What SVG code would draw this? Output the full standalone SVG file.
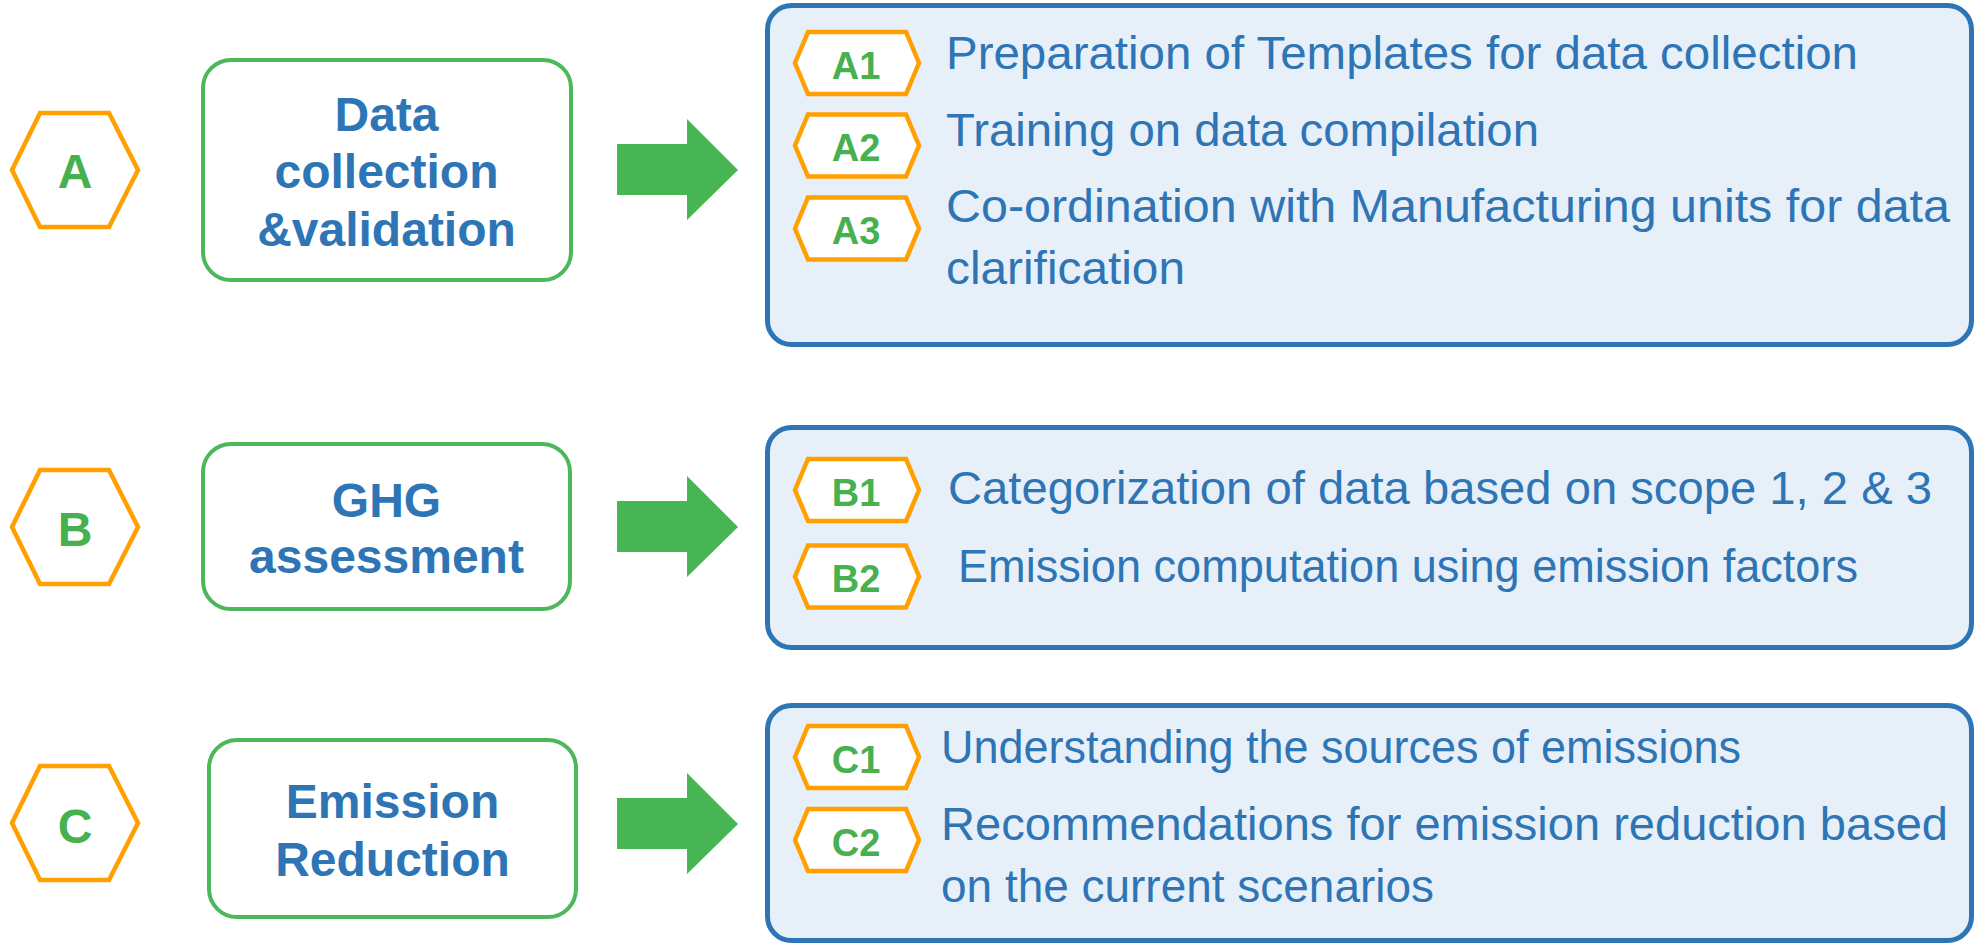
<svg xmlns="http://www.w3.org/2000/svg" width="1975" height="945" viewBox="0 0 1975 945">
<style>
.hexL{fill:#fff;stroke:#FFA000;stroke-width:4.5;stroke-linejoin:miter}
.hexS{fill:#fff;stroke:#FFA000;stroke-width:4.5;stroke-linejoin:miter}
.box{fill:#fff;stroke:#4CB85A;stroke-width:4}
.panel{fill:#E7EFF8;stroke:#2E75B6;stroke-width:5}
.arrow{fill:#47B553}
.lbl{font-family:"Liberation Sans",Arial,sans-serif;font-weight:bold;fill:#47B04F;text-anchor:middle}
.big{font-size:48px}
.sm{font-size:38px}
.head{font-family:"Liberation Sans",Arial,sans-serif;font-weight:bold;font-size:48px;fill:#2E75B6;text-anchor:middle}
.item{font-family:"Liberation Sans",Arial,sans-serif;font-size:47px;fill:#2E75B6}
</style>
<defs>
<polygon id="hl" points="-63,0 -35,-57 34,-57 63,0 34,57 -35,57"/>
<polygon id="hs" points="-62,0 -49,-31 49,-31 62,0 49,31 -49,31"/>
</defs>
<g id="connectors">
<polygon class="arrow" points="617,144 687,144 687,119 738,170 687,220 687,195 617,195"/>
<polygon class="arrow" points="617,501 687,501 687,476 738,527 687,577 687,552 617,552"/>
<polygon class="arrow" points="617,798 687,798 687,773 738,824 687,874 687,849 617,849"/>
</g>
<g id="hexA"><use href="#hl" class="hexL" x="75" y="170"/><text class="lbl big" x="75" y="188">A</text></g>
<g id="hexB"><use href="#hl" class="hexL" x="75" y="527"/><text class="lbl big" x="75" y="546">B</text></g>
<g id="hexC"><use href="#hl" class="hexL" x="75" y="823"/><text class="lbl big" x="75" y="843">C</text></g>
<g id="boxA"><rect class="box" x="203" y="60" width="368" height="220" rx="28"/>
<text class="head" x="386.5" y="131">Data</text><text class="head" x="386.5" y="188">collection</text><text class="head" x="386.5" y="246">&amp;validation</text></g>
<g id="boxB"><rect class="box" x="203" y="444" width="367" height="165" rx="28"/>
<text class="head" x="386.5" y="517">GHG</text><text class="head" x="386.5" y="573">assessment</text></g>
<g id="boxC"><rect class="box" x="209" y="740" width="367" height="177" rx="28"/>
<text class="head" x="392.5" y="818">Emission</text><text class="head" x="392.5" y="876">Reduction</text></g>
<g id="panelA"><rect class="panel" x="767.5" y="5.5" width="1204" height="339" rx="24"/>
<use href="#hs" class="hexS" x="857" y="63"/><text class="lbl sm" x="856" y="79">A1</text>
<use href="#hs" class="hexS" x="857" y="145.5"/><text class="lbl sm" x="856" y="161">A2</text>
<use href="#hs" class="hexS" x="857" y="228.5"/><text class="lbl sm" x="856" y="244">A3</text>
<text class="item" x="946" y="69" textLength="912" lengthAdjust="spacingAndGlyphs">Preparation of Templates for data collection</text>
<text class="item" x="946" y="146" textLength="593" lengthAdjust="spacingAndGlyphs">Training on data compilation</text>
<text class="item" x="946" y="222" textLength="1004" lengthAdjust="spacingAndGlyphs">Co-ordination with Manufacturing units for data</text>
<text class="item" x="946" y="284" textLength="239" lengthAdjust="spacingAndGlyphs">clarification</text></g>
<g id="panelB"><rect class="panel" x="767.5" y="427.5" width="1204" height="220" rx="24"/>
<use href="#hs" class="hexS" x="857" y="490"/><text class="lbl sm" x="856" y="506">B1</text>
<use href="#hs" class="hexS" x="857" y="576.5"/><text class="lbl sm" x="856" y="592">B2</text>
<text class="item" x="948" y="504" textLength="984" lengthAdjust="spacingAndGlyphs">Categorization of data based on scope 1, 2 &amp; 3</text>
<text class="item" x="958" y="582" textLength="900" lengthAdjust="spacingAndGlyphs">Emission computation using emission factors</text></g>
<g id="panelC"><rect class="panel" x="767.5" y="705.5" width="1204" height="235" rx="24"/>
<use href="#hs" class="hexS" x="857" y="757"/><text class="lbl sm" x="856" y="773">C1</text>
<use href="#hs" class="hexS" x="857" y="840"/><text class="lbl sm" x="856" y="856">C2</text>
<text class="item" x="941" y="763" textLength="800" lengthAdjust="spacingAndGlyphs">Understanding the sources of emissions</text>
<text class="item" x="941" y="840" textLength="1007" lengthAdjust="spacingAndGlyphs">Recommendations for emission reduction based</text>
<text class="item" x="941" y="902" textLength="493" lengthAdjust="spacingAndGlyphs">on the current scenarios</text></g>
</svg>
